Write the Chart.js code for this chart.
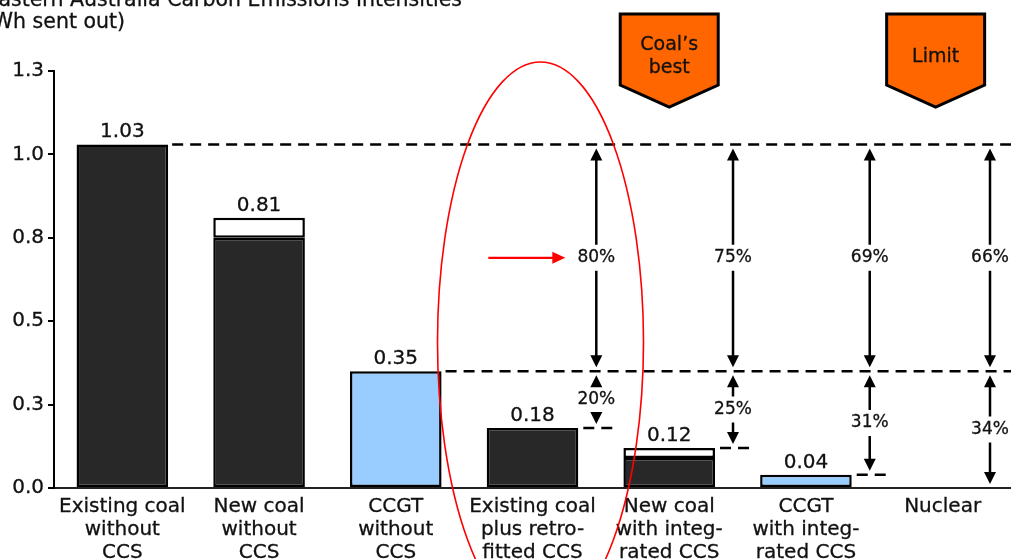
<!DOCTYPE html>
<html lang="en">
<head>
<meta charset="UTF-8">
<title>Eastern Australia Carbon Emissions Intensities</title>
<script src="https://cdn.jsdelivr.net/npm/chart.js"></script>
<style>
  html, body { margin: 0; padding: 0; background: #fff; }
  #wrap { position: relative; width: 1011px; height: 559px; }
</style>
</head>
<body>
<div id="wrap"><canvas id="chart"></canvas></div>
<script>
// technologies on the x axis (multi-line labels)
const categories = [
  ["Existing coal", "without", "CCS"],
  ["New coal", "without", "CCS"],
  ["CCGT", "without", "CCS"],
  ["Existing coal", "plus retro-", "fitted CCS"],
  ["New coal", "with integ-", "rated CCS"],
  ["CCGT", "with integ-", "rated CCS"],
  ["Nuclear"]
];
// total intensity, t/MWh sent out
const totals = [1.03, 0.81, 0.35, 0.18, 0.12, 0.04, 0];
// solid part of each bar, the rest is the white cap
const solidPart = [1.03, 0.75, 0.35, 0.18, 0.09, 0.04, 0];
const barColors = ["#282828", "#282828", "#99ccff", "#282828", "#282828", "#99ccff", "#282828"];
const yTicks = [0, 0.25, 0.5, 0.75, 1.0, 1.25];
const yTickLabels = ["0.0", "0.3", "0.5", "0.8", "1.0", "1.3"];
const titleLines = ["Eastern Australia Carbon Emissions Intensities", "(t/MWh sent out)"];
const callouts = [
  { lines: ["Coal\u2019s", "best"], cat: 4, dx: 0 },
  { lines: ["Limit"], cat: 6, dx: -7 }
];

const capPart = totals.map((t, i) => +(t - solidPart[i]).toFixed(2));
const FONT = "'DejaVu Sans', Verdana, sans-serif";
const INK = "#111";
const STROKE = 0.3;

// text with a thin outline so it reads a little heavier
function txt(ctx, s, x, y) {
  ctx.lineWidth = STROKE;
  ctx.strokeStyle = INK;
  ctx.fillStyle = INK;
  ctx.strokeText(s, x, y);
  ctx.fillText(s, x, y);
}

function dashLine(ctx, x1, x2, y) {
  ctx.save();
  ctx.strokeStyle = "#000";
  ctx.lineWidth = 2.5;
  ctx.setLineDash([11, 7]);
  ctx.beginPath();
  ctx.moveTo(x1, y);
  ctx.lineTo(x2, y);
  ctx.stroke();
  ctx.restore();
}

function head(ctx, x, y, dir) {
  // dir -1 points up, +1 points down
  ctx.beginPath();
  ctx.moveTo(x, y);
  ctx.lineTo(x - 6, y - dir * 12);
  ctx.lineTo(x + 6, y - dir * 12);
  ctx.closePath();
  ctx.fill();
}

function doubleArrow(ctx, x, yTop, yBot, label) {
  const a = yTop + 4, b = yBot - 4, mid = (yTop + yBot) / 2, gap = 13;
  ctx.save();
  ctx.fillStyle = "#000";
  ctx.strokeStyle = "#000";
  ctx.lineWidth = 2.5;
  head(ctx, x, a, -1);
  head(ctx, x, b, 1);
  ctx.beginPath();
  if (mid - gap > a + 11) { ctx.moveTo(x, a + 11); ctx.lineTo(x, mid - gap); }
  if (b - 11 > mid + gap) { ctx.moveTo(x, mid + gap); ctx.lineTo(x, b - 11); }
  ctx.stroke();
  ctx.font = "17px " + FONT;
  ctx.textAlign = "center";
  ctx.textBaseline = "middle";
  txt(ctx, label, x, mid);
  ctx.restore();
}

const annotations = {
  id: "annotations",
  afterDatasetsDraw(chart) {
    const ctx = chart.ctx;
    const xs = chart.scales.x, ys = chart.scales.y;
    const area = chart.chartArea;
    const barW = chart.getDatasetMeta(0).data[0].width;
    const right = i => xs.getPixelForValue(i) + barW / 2;

    // value labels above bars
    ctx.save();
    ctx.font = "20px " + FONT;
    ctx.textAlign = "center";
    ctx.textBaseline = "alphabetic";
    totals.forEach((v, i) => {
      if (v > 0) txt(ctx, v.toFixed(2), xs.getPixelForValue(i), ys.getPixelForValue(v) - 7);
    });
    ctx.restore();

    // reference levels: existing coal and unabated gas
    const top = totals[0], gas = totals[2];
    const yTop = ys.getPixelForValue(top), yGas = ys.getPixelForValue(gas);
    dashLine(ctx, right(0) + 4, area.right, yTop);
    dashLine(ctx, right(2) + 4, area.right, yGas);

    let firstX = null;
    for (let i = 3; i < totals.length; i++) {
      const ax = Math.min(right(i) + 18, area.right - 21);
      if (firstX === null) firstX = ax;
      const yv = ys.getPixelForValue(totals[i]);
      if (totals[i] > 0) dashLine(ctx, ax - 13, ax + 18, yv);
      const pct = Math.round((top - gas) / (top - totals[i]) * 100);
      doubleArrow(ctx, ax, yTop, yGas, pct + "%");
      doubleArrow(ctx, ax, yGas, yv, (100 - pct) + "%");
    }

    // red pointer to the first share
    const ry = (yTop + yGas) / 2;
    ctx.save();
    ctx.strokeStyle = "#ff0000";
    ctx.fillStyle = "#ff0000";
    ctx.lineWidth = 2.2;
    ctx.beginPath();
    ctx.moveTo(firstX - 108, ry);
    ctx.lineTo(firstX - 42, ry);
    ctx.stroke();
    ctx.beginPath();
    ctx.moveTo(firstX - 31, ry);
    ctx.lineTo(firstX - 44, ry - 6);
    ctx.lineTo(firstX - 44, ry + 6);
    ctx.closePath();
    ctx.fill();
    ctx.restore();

    // orange callouts
    callouts.forEach(c => {
      const cx = xs.getPixelForValue(c.cat) + c.dx;
      ctx.save();
      ctx.beginPath();
      ctx.moveTo(cx - 49, 14);
      ctx.lineTo(cx + 49, 14);
      ctx.lineTo(cx + 49, 85);
      ctx.lineTo(cx, 107);
      ctx.lineTo(cx - 49, 85);
      ctx.closePath();
      ctx.fillStyle = "#ff6600";
      ctx.fill();
      ctx.lineWidth = 3;
      ctx.strokeStyle = "#000";
      ctx.lineJoin = "miter";
      ctx.stroke();
      ctx.font = "19px " + FONT;
      ctx.textAlign = "center";
      ctx.textBaseline = "middle";
      const y0 = 57 - (c.lines.length - 1) * 11.5;
      c.lines.forEach((t, k) => txt(ctx, t, cx, y0 + k * 23));
      ctx.restore();
    });

    // title, left edge runs off the canvas
    ctx.save();
    ctx.font = "20.5px " + FONT;
    ctx.textAlign = "right";
    ctx.textBaseline = "alphabetic";
    txt(ctx, titleLines[0], 462, 6);
    txt(ctx, titleLines[1], 125, 28);
    ctx.restore();

    // red ring around the retrofit case
    ctx.save();
    ctx.strokeStyle = "#ff0000";
    ctx.lineWidth = 1.6;
    ctx.beginPath();
    ctx.ellipse(xs.getPixelForValue(3) + 8, area.top + 271, 103, 280, 0, 0, Math.PI * 2);
    ctx.stroke();
    ctx.restore();
  }
};

Chart.defaults.font.family = FONT;
Chart.defaults.color = INK;

new Chart(document.getElementById("chart"), {
  type: "bar",
  data: {
    labels: categories,
    datasets: [
      {
        data: solidPart.map(v => v > 0 ? v : null),
        backgroundColor: barColors,
        borderColor: "#000",
        borderWidth: 2.5,
        borderSkipped: false,
        stack: "s"
      },
      {
        data: capPart.map(v => v > 0 ? v : null),
        backgroundColor: "#ffffff",
        borderColor: "#000",
        borderWidth: 2.5,
        borderSkipped: false,
        stack: "s"
      }
    ]
  },
  options: {
    responsive: true,
    maintainAspectRatio: false,
    animation: false,
    layout: { padding: { top: 71, left: 0, right: 0, bottom: 0 } },
    datasets: { bar: { categoryPercentage: 1, barPercentage: 0.67 } },
    plugins: { legend: { display: false }, tooltip: { enabled: false } },
    scales: {
      x: {
        stacked: true,
        grid: { display: false, drawTicks: false },
        border: { color: "#222", width: 2 },
        ticks: {
          font: { size: 20, lineHeight: 1.15 }, padding: 7, color: INK,
          textStrokeColor: INK, textStrokeWidth: STROKE,
          maxRotation: 0, autoSkip: false
        },
        afterFit(s) { s.height = 71; }
      },
      y: {
        stacked: true,
        min: 0,
        max: 1.25,
        afterBuildTicks(s) { s.ticks = yTicks.map(v => ({ value: v })); },
        grid: { drawOnChartArea: false, drawTicks: true, tickLength: 6, color: "#000", lineWidth: 2 },
        border: { color: "#000", width: 2 },
        ticks: {
          font: { size: 20 }, padding: 4, color: INK,
          textStrokeColor: INK, textStrokeWidth: STROKE,
          callback: (v, i) => yTickLabels[i]
        },
        afterFit(s) { s.width = 54; }
      }
    }
  },
  plugins: [annotations]
});
</script>
</body>
</html>
